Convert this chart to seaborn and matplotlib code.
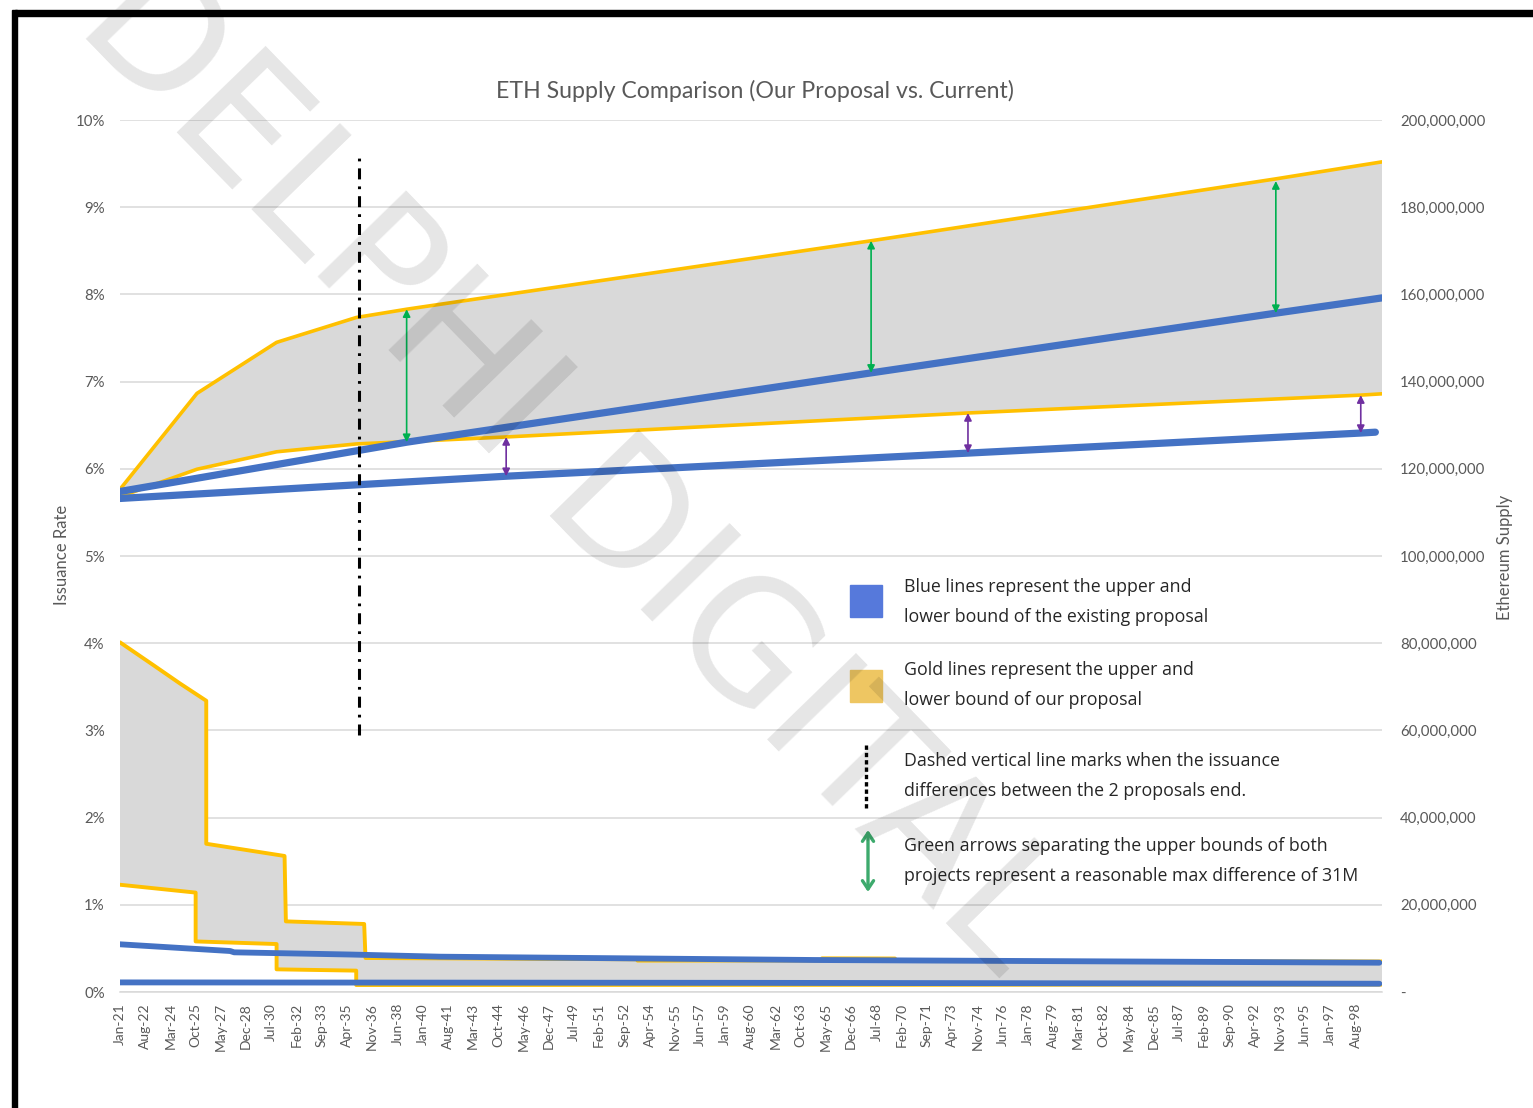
import numpy as np
import pandas as pd
import matplotlib
matplotlib.use("Agg")
import matplotlib.pyplot as plt
import seaborn as sns
from matplotlib.patches import Rectangle, FancyArrowPatch
from matplotlib.lines import Line2D

# ---------------- data ----------------
tick_labels = ["Jan-21", "Aug-22", "Mar-24", "Oct-25", "May-27", "Dec-28", "Jul-30", "Feb-32",
               "Sep-33", "Apr-35", "Nov-36", "Jun-38", "Jan-40", "Aug-41", "Mar-43", "Oct-44",
               "May-46", "Dec-47", "Jul-49", "Feb-51", "Sep-52", "Apr-54", "Nov-55", "Jun-57",
               "Jan-59", "Aug-60", "Mar-62", "Oct-63", "May-65", "Dec-66", "Jul-68", "Feb-70",
               "Sep-71", "Apr-73", "Nov-74", "Jun-76", "Jan-78", "Aug-79", "Mar-81", "Oct-82",
               "May-84", "Dec-85", "Jul-87", "Feb-89", "Sep-90", "Apr-92", "Nov-93", "Jun-95",
               "Jan-97", "Aug-98"]
tick_step_months = 19
last_month = 951

# Issuance rate (%), x = month index from Jan-21
gold_up_rate_m = [0, 25, 45, 65, 65, 124, 125, 184, 185, 390, 390, 529, 529, 584, 584, 951]
gold_up_rate = [4.01, 3.75, 3.54, 3.34, 1.70, 1.56, 0.81, 0.78, 0.39, 0.375, 0.36, 0.362,
                0.386, 0.384, 0.355, 0.35]
gold_low_rate_m = [0, 57, 57, 118, 118, 178, 178, 951]
gold_low_rate = [1.23, 1.14, 0.58, 0.55, 0.26, 0.245, 0.08, 0.085]
blue_up_rate_m = [0, 83, 86, 173, 241, 523, 949]
blue_up_rate = [0.547, 0.47, 0.455, 0.43, 0.405, 0.367, 0.336]
blue_low_rate_m = [0, 475, 949]
blue_low_rate = [0.11, 0.105, 0.095]

# Ethereum supply (millions)
gold_up_sup_m = [0, 58, 118, 178, 216, 566, 871, 951]
gold_up_sup = [115.3, 137.3, 149.0, 154.7, 156.6, 172.3, 186.5, 190.4]
gold_low_sup_m = [0, 58, 118, 178, 291, 639, 935, 951]
gold_low_sup = [113.6, 119.9, 123.9, 125.7, 127.3, 132.8, 136.9, 137.2]
blue_up_sup_m = [0, 216, 566, 871, 951]
blue_up_sup = [114.8, 126.1, 142.0, 155.7, 159.2]
blue_low_sup_m = [0, 291, 639, 935, 946]
blue_low_sup = [113.2, 118.3, 123.6, 128.2, 128.4]

# annotations
dash_month = 180
dash_range_pct = [2.95, 9.56]
green_arrow_m = [216, 566, 871]
green_arrow_top = [156.6, 172.3, 186.0]
green_arrow_bot = [126.1, 142.0, 155.7]
purple_arrow_m = [291, 639, 935]
purple_arrow_top = [127.3, 132.8, 136.9]
purple_arrow_bot = [118.3, 123.6, 128.2]

legend_lines = [
    ("Blue lines represent the upper and", "lower bound of the existing proposal"),
    ("Gold lines represent the upper and", "lower bound of our proposal"),
    ("Dashed vertical line marks when the issuance", "differences between the 2 proposals end."),
    ("Green arrows separating the upper bounds of both",
     "projects represent a reasonable max difference of 31M"),
]

# ---------------- style ----------------
sns.set_style("white")
plt.rcParams["font.family"] = ["Lato", "DejaVu Sans"]

BLUE = "#4472C4"
GOLD = "#FFC000"
FILL = "#D9D9D9"
GRID = "#D9D9D9"
TXT = "#595959"

W, H = 1533, 1108
fig = plt.figure(figsize=(W / 100, H / 100), dpi=100)
fig.patch.set_facecolor("white")


def fx(x):
    return x / W


def fy(y):
    return 1 - y / H


ax = fig.add_axes([fx(120), fy(992), fx(1382) - fx(120), fy(120) - fy(992)])
ax2 = ax.twinx()

# ---- issuance rate (left axis) ----
poly_x = np.concatenate([gold_up_rate_m, gold_low_rate_m[::-1]])
poly_y = np.concatenate([gold_up_rate, gold_low_rate[::-1]])
ax.fill(poly_x, poly_y, color=FILL, lw=0, zorder=1)
for xs, ys, c, lw, z in [(gold_up_rate_m, gold_up_rate, GOLD, 2.8, 2),
                         (gold_low_rate_m, gold_low_rate, GOLD, 2.8, 2),
                         (blue_up_rate_m, blue_up_rate, BLUE, 4.2, 3),
                         (blue_low_rate_m, blue_low_rate, BLUE, 4.2, 3)]:
    sns.lineplot(x=xs, y=ys, estimator=None, sort=False, ax=ax, color=c, linewidth=lw,
                 zorder=z)

# ---- supply (right axis) ----
poly_x = np.concatenate([gold_up_sup_m, gold_low_sup_m[::-1]])
poly_y = np.concatenate([gold_up_sup, gold_low_sup[::-1]])
ax2.fill(poly_x, poly_y, color=FILL, lw=0, zorder=1)
for xs, ys, c, lw, z in [(gold_up_sup_m, gold_up_sup, GOLD, 2.6, 2),
                         (gold_low_sup_m, gold_low_sup, GOLD, 2.6, 2),
                         (blue_up_sup_m, blue_up_sup, BLUE, 5.2, 3),
                         (blue_low_sup_m, blue_low_sup, BLUE, 5.2, 3)]:
    sns.lineplot(x=xs, y=ys, estimator=None, sort=False, ax=ax2, color=c, linewidth=lw,
                 zorder=z)

# dashed vertical line (percent converted to the aligned supply axis: 10% <-> 200M)
ax2.plot([dash_month, dash_month], [dash_range_pct[0] * 20, dash_range_pct[1] * 20],
         color="black", lw=2.2, linestyle=(0, (3.6, 2.3, 0.9, 2.3)), zorder=6)

for m, t, b in zip(green_arrow_m, green_arrow_top, green_arrow_bot):
    ax2.annotate("", xy=(m, t), xytext=(m, b),
                 arrowprops=dict(arrowstyle="<|-|>", color="#00B050", lw=1.2,
                                 mutation_scale=11, shrinkA=0, shrinkB=0), zorder=5)
for m, t, b in zip(purple_arrow_m, purple_arrow_top, purple_arrow_bot):
    ax2.annotate("", xy=(m, t), xytext=(m, b),
                 arrowprops=dict(arrowstyle="<|-|>", color="#7030A0", lw=1.2,
                                 mutation_scale=11, shrinkA=0, shrinkB=0), zorder=5)

# ---- axes formatting ----
ax.set_xlim(0, last_month)
ax.set_ylim(0, 10)
ax2.set_ylim(0, 200)
ax.set_xlabel("")
ax.set_ylabel("")
ax2.set_ylabel("")

ax.set_yticks(range(0, 11))
ax.set_yticklabels([f"{i}%" for i in range(0, 11)])
ax2.set_yticks(range(0, 201, 20))
ax2.set_yticklabels(["-"] + [f"{v * 1_000_000:,.0f}" for v in range(20, 201, 20)])
ax.set_xticks(np.arange(len(tick_labels)) * tick_step_months)
ax.set_xticklabels(tick_labels, rotation=90)

ax.tick_params(axis="y", length=0, pad=11, labelsize=10.8, labelcolor=TXT)
ax2.tick_params(axis="y", length=0, pad=13, labelsize=10.8, labelcolor=TXT)
ax.tick_params(axis="x", length=5, width=1, color=GRID, pad=3, labelsize=10,
               labelcolor=TXT, direction="out")

ax.yaxis.grid(True, color=GRID, lw=1.1)
ax.xaxis.grid(False)
ax.set_axisbelow(True)
for a in (ax, ax2):
    for s in ("top", "left", "right", "bottom"):
        a.spines[s].set_visible(False)
ax.spines["bottom"].set_visible(True)
ax.spines["bottom"].set_color(GRID)
ax.spines["bottom"].set_linewidth(1.1)

# ---- texts ----
fig.text(fx(755), fy(91), "ETH Supply Comparison (Our Proposal vs. Current)",
         ha="center", va="center", fontsize=16.7, color=TXT)
fig.text(fx(62), fy(555), "Issuance Rate", rotation=90, ha="center", va="center",
         fontsize=12, color=TXT)
fig.text(fx(1505), fy(557), "Ethereum Supply", rotation=90, ha="center", va="center",
         fontsize=12, color=TXT)

# ---- custom legend ----
fig.add_artist(Rectangle((fx(850), fy(617)), fx(32), 32 / H, color="#5679DB",
                         transform=fig.transFigure, zorder=4))
fig.add_artist(Rectangle((fx(850), fy(702)), fx(32), 32 / H, color="#EEC662",
                         transform=fig.transFigure, zorder=4))
fig.add_artist(Line2D([fx(866), fx(866)], [fy(745), fy(808)], color="black", lw=2.4,
                      linestyle=(0, (1.3, 0.9)), transform=fig.transFigure, zorder=4))
fig.add_artist(FancyArrowPatch((fx(868), fy(892)), (fx(868), fy(830)),
                               arrowstyle="<->,head_length=6,head_width=4",
                               color="#3DAA6D", lw=2.4, transform=fig.transFigure,
                               shrinkA=0, shrinkB=0, zorder=4))
leg_y = [587, 670, 761, 846]
for (l1, l2), y in zip(legend_lines, leg_y):
    fig.text(fx(904), fy(y), l1, ha="left", va="center", fontsize=12.8, color="#262626",
             family=["Open Sans", "DejaVu Sans"])
    fig.text(fx(904), fy(y + 30), l2, ha="left", va="center", fontsize=12.8,
             color="#262626", family=["Open Sans", "DejaVu Sans"])

# ---- watermark ----
fig.text(fx(570), fy(470), "DELPHI DIGITAL", rotation=-45.8, rotation_mode="anchor",
         ha="center", va="center", fontsize=122, fontweight="normal", color="black",
         alpha=0.1, zorder=10, family=["DejaVu Sans"])

# ---- screenshot frame ----
fig.add_artist(Rectangle((fx(15), fy(16)), fx(W - 15), 6 / H, color="black",
                         transform=fig.transFigure, zorder=11))
fig.add_artist(Rectangle((fx(12), 0), fx(5), fy(10), color="black",
                         transform=fig.transFigure, zorder=11))

fig.savefig("out.png", dpi=100, facecolor="white")
